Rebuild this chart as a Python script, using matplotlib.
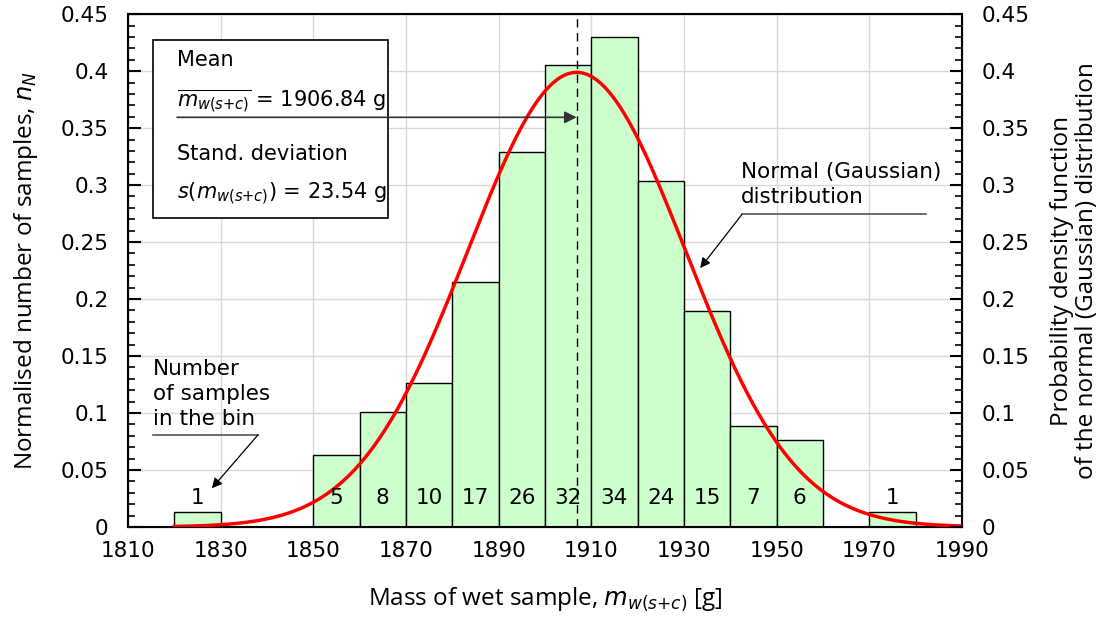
import numpy as np
import matplotlib
matplotlib.use('Agg')
import matplotlib.pyplot as plt
from matplotlib.ticker import MultipleLocator, FuncFormatter, FixedLocator
from matplotlib.patches import Rectangle

# histogram data (bins of 10 g)
bin_left = [1820, 1830, 1840, 1850, 1860, 1870, 1880, 1890, 1900, 1910, 1920, 1930, 1940, 1950, 1960, 1970]
counts = [1, 0, 0, 5, 8, 10, 17, 26, 32, 34, 24, 15, 7, 6, 0, 1]
bin_width = 10
mean = 1906.84
std = 23.54
x_ticks = [1810, 1830, 1850, 1870, 1890, 1910, 1930, 1950, 1970, 1990]

plt.rcParams['font.family'] = ['DejaVu Sans']
plt.rcParams['mathtext.fontset'] = 'custom'
plt.rcParams['mathtext.it'] = 'DejaVu Sans:italic'
plt.rcParams['mathtext.rm'] = 'DejaVu Sans'

counts = np.array(counts)
n_total = counts.sum()
heights = counts * std / (n_total * bin_width)

fig = plt.figure(figsize=(11.07, 6.17), dpi=100)
ax = fig.add_axes([0.1156, 0.146, 0.7534, 0.831])

ax.bar(bin_left, heights, width=bin_width, align='edge', color='#ccffcc',
       edgecolor='black', linewidth=1, zorder=2)
for xl, c in zip(bin_left, counts):
    if c > 0:
        ax.text(xl + bin_width / 2, 0.0255, str(c), ha='center', va='center',
                fontsize=15.5, zorder=5)

xs = np.linspace(1820, 1990, 400)
pdf = np.exp(-0.5 * ((xs - mean) / std) ** 2) / np.sqrt(2 * np.pi)
ax.plot(xs, pdf, color='red', lw=2.5, zorder=4)
ax.axvline(mean, color='black', ls=(0, (6, 4)), lw=1, zorder=3)

ax.set_xlim(1810, 1990)
ax.set_ylim(0, 0.45)
ax.xaxis.set_major_locator(FixedLocator(x_ticks))
ax.yaxis.set_major_locator(MultipleLocator(0.05))
ax.yaxis.set_minor_locator(MultipleLocator(0.01))
fmt = FuncFormatter(lambda v, p: '%g' % round(v, 2))
ax.yaxis.set_major_formatter(fmt)
ax.grid(True, color='#d9d9d9', lw=1, zorder=0)
ax.set_axisbelow(True)
ax.tick_params(axis='x', length=0, labelsize=15.5, pad=10)
ax.tick_params(axis='y', which='major', direction='in', length=9, width=1.5, labelsize=15.5, pad=14)
ax.tick_params(axis='y', which='minor', direction='in', length=5, width=1.2)
for s in ax.spines.values():
    s.set_linewidth(1.5)

ax.set_xlabel('Mass of wet sample, $m_{w(s{+}c)}$ [g]', fontsize=17.5, family='Open Sans', labelpad=18)
ax.set_ylabel('Normalised number of samples, $n_N$', fontsize=17.5, family='Open Sans', labelpad=15)

ax2 = ax.twinx()
ax2.set_ylim(0, 0.45)
ax2.yaxis.set_major_locator(MultipleLocator(0.05))
ax2.yaxis.set_minor_locator(MultipleLocator(0.01))
ax2.yaxis.set_major_formatter(fmt)
ax2.tick_params(axis='y', which='major', direction='in', length=9, width=1.5, labelsize=15.5, pad=14)
ax2.tick_params(axis='y', which='minor', direction='in', length=5, width=1.2)
ax2.set_ylabel('Probability density function\nof the normal (Gaussian) distribution',
               fontsize=17.5, family='Open Sans', labelpad=15, linespacing=1.05)

# info box
ax.add_patch(Rectangle((1815.4, 0.2707), 50.7, 0.1567, facecolor='white',
                       edgecolor='black', lw=1.2, zorder=6))
ax.text(1820.6, 0.4095, 'Mean', fontsize=15, va='center', zorder=7)
ax.text(1820.6, 0.3740, r'$\overline{m_{w(s{+}c)}}$ = 1906.84 g', fontsize=15, va='center', zorder=7)
ax.text(1820.6, 0.3270, 'Stand. deviation', fontsize=15, va='center', zorder=7)
ax.text(1820.6, 0.2920, r'$s(m_{w(s{+}c)})$ = 23.54 g', fontsize=15, va='center', zorder=7)
ax.annotate('', xy=(mean, 0.3595), xytext=(1820.6, 0.3595),
            arrowprops=dict(arrowstyle='-|>', color='#333333', lw=1.2,
                            mutation_scale=18, shrinkA=0, shrinkB=0), zorder=8)

# number of samples annotation
ax.text(1815.4, 0.1166, 'Number\nof samples\nin the bin', fontsize=15.5, va='center',
        linespacing=1.3, zorder=7)
ax.plot([1815.3, 1838.1], [0.0810, 0.0810], color='#555555', lw=1.2, zorder=7)
ax.annotate('', xy=(1828.1, 0.0339), xytext=(1838.1, 0.0810),
            arrowprops=dict(arrowstyle='-|>', color='black', lw=0.9,
                            mutation_scale=15, shrinkA=0, shrinkB=0), zorder=8)

# normal distribution annotation
ax.text(1942.3, 0.3003, 'Normal (Gaussian)\ndistribution', fontsize=15.5, va='center',
        linespacing=1.3, zorder=7)
ax.plot([1942.5, 1982.2], [0.2742, 0.2742], color='#555555', lw=1.2, zorder=7)
ax.annotate('', xy=(1933.5, 0.2272), xytext=(1942.5, 0.2742),
            arrowprops=dict(arrowstyle='-|>', color='black', lw=0.9,
                            mutation_scale=15, shrinkA=0, shrinkB=0), zorder=8)

fig.savefig('out.png', dpi=100)
